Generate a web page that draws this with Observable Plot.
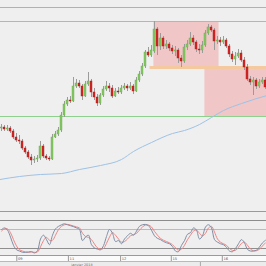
<!DOCTYPE html>
<html><head><meta charset="utf-8">
<script src="https://cdn.jsdelivr.net/npm/d3@7"></script>
<script src="https://cdn.jsdelivr.net/npm/@observablehq/plot@0.6"></script>
<style>
html,body{margin:0;padding:0;background:#efefef;}
#chart{width:266px;height:266px;overflow:hidden;font-family:"DejaVu Sans",sans-serif;}
#chart svg{display:block;}
#blue{height:1px;background:#8f8ff2;}
#gap{height:8px;}
#stochWrap{border-top:1px solid #8c8c8c;border-bottom:1px solid #9a9a9a;}
#axisTop{background:#fbfbfb;border-bottom:1px solid #b9b9b9;}
</style></head><body>
<div id="chart"><div id="main"></div><div id="blue"></div><div id="gap"></div><div id="stochWrap"></div><div id="axisTop"></div><div id="axisBottom"></div></div>
<script>
// ---- candle data (EUR/USD style prices) ----
const open  = [1.2372,1.2373,1.2371,1.2372,1.2369,1.2363,1.2360,1.2359,1.2352,1.2348,1.2343,1.2340,1.2341,1.2342,1.2354,1.2344,1.2342,1.2341,1.2363,1.2366,1.2370,1.2385,1.2396,1.2400,1.2399,1.2414,1.2417,1.2414,1.2404,1.2416,1.2419,1.2408,1.2403,1.2397,1.2405,1.2411,1.2414,1.2412,1.2404,1.2409,1.2408,1.2412,1.2414,1.2412,1.2414,1.2409,1.2420,1.2426,1.2434,1.2448,1.2445,1.2449,1.2471,1.2454,1.2462,1.2454,1.2456,1.2452,1.2449,1.2450,1.2442,1.2439,1.2453,1.2456,1.2462,1.2458,1.2451,1.2450,1.2455,1.2467,1.2473,1.2470,1.2459,1.2460,1.2458,1.2460,1.2454,1.2446,1.2441,1.2444,1.2447,1.2440,1.2433,1.2421,1.2418,1.2420,1.2414,1.2418,1.2420];
const high  = [1.2376,1.2375,1.2375,1.2374,1.2371,1.2367,1.2365,1.2361,1.2354,1.2350,1.2346,1.2344,1.2345,1.2359,1.2356,1.2346,1.2344,1.2366,1.2369,1.2373,1.2388,1.2399,1.2403,1.2404,1.2423,1.2421,1.2420,1.2416,1.2419,1.2428,1.2421,1.2412,1.2406,1.2407,1.2414,1.2419,1.2417,1.2415,1.2412,1.2413,1.2415,1.2417,1.2416,1.2418,1.2416,1.2423,1.2429,1.2437,1.2450,1.2453,1.2455,1.2479,1.2473,1.2467,1.2464,1.2460,1.2458,1.2455,1.2454,1.2452,1.2445,1.2456,1.2460,1.2468,1.2465,1.2460,1.2456,1.2459,1.2470,1.2476,1.2475,1.2472,1.2464,1.2463,1.2464,1.2462,1.2456,1.2449,1.2448,1.2451,1.2450,1.2443,1.2436,1.2424,1.2423,1.2422,1.2421,1.2423,1.2423];
const low   = [1.2369,1.2369,1.2369,1.2367,1.2361,1.2358,1.2356,1.2350,1.2346,1.2341,1.2335,1.2337,1.2338,1.2340,1.2342,1.2340,1.2339,1.2340,1.2362,1.2364,1.2368,1.2383,1.2394,1.2397,1.2398,1.2412,1.2412,1.2400,1.2403,1.2414,1.2403,1.2400,1.2394,1.2395,1.2403,1.2409,1.2408,1.2402,1.2403,1.2406,1.2406,1.2410,1.2409,1.2410,1.2406,1.2408,1.2418,1.2424,1.2432,1.2443,1.2443,1.2447,1.2445,1.2450,1.2451,1.2451,1.2449,1.2446,1.2444,1.2437,1.2433,1.2437,1.2450,1.2454,1.2455,1.2448,1.2446,1.2447,1.2453,1.2465,1.2468,1.2450,1.2456,1.2454,1.2456,1.2452,1.2443,1.2438,1.2435,1.2442,1.2438,1.2430,1.2419,1.2415,1.2405,1.2411,1.2412,1.2416,1.2411];
const close = [1.2373,1.2371,1.2372,1.2369,1.2363,1.2360,1.2359,1.2352,1.2348,1.2343,1.2340,1.2341,1.2342,1.2354,1.2344,1.2342,1.2341,1.2363,1.2366,1.2370,1.2385,1.2396,1.2400,1.2399,1.2414,1.2417,1.2414,1.2404,1.2416,1.2419,1.2408,1.2403,1.2397,1.2405,1.2411,1.2414,1.2412,1.2404,1.2409,1.2408,1.2412,1.2414,1.2412,1.2414,1.2409,1.2420,1.2426,1.2434,1.2448,1.2445,1.2450,1.2471,1.2454,1.2462,1.2454,1.2456,1.2452,1.2449,1.2450,1.2442,1.2439,1.2453,1.2456,1.2462,1.2458,1.2451,1.2450,1.2455,1.2467,1.2473,1.2470,1.2459,1.2460,1.2458,1.2460,1.2454,1.2446,1.2441,1.2444,1.2447,1.2440,1.2433,1.2421,1.2418,1.2420,1.2414,1.2418,1.2420,1.2413];

// ---- moving average (sparse readings: candle index, value) ----
const maIndex = [-0.5, 6, 13, 20, 26, 33, 40, 44, 50, 57, 61, 66, 70, 74, 80, 88.5];
const maValue = [1.2321,1.2324,1.2326,1.2327,1.2331,1.2335,1.2341,1.2349,1.2358,1.2367,1.2370,1.2376,1.2383,1.2390,1.2397,1.2405];

// ---- horizontal levels ----
const upperLevel = 1.2493;
const resistanceLevel = 1.2479;
const supportLevel = 1.2384;
const pivotLevel = 1.2433;
const pivotFrom = 49.5;

// ---- shaded zones ----
const zoneStart = [50.8, 67.8];
const zoneEnd   = [72.5, 88.4];
const zoneTop   = [1.2479, 1.2433];
const zoneBottom= [1.2433, 1.2384];

// ---- stochastic oscillator ----
const stochK = [80,85,78,56,30,16,12,8,8,9,10,6,13,50,62,48,32,62,82,90,95,98,95,92,89,85,80,45,56,62,32,22,18,16,29,58,80,68,42,45,35,50,60,68,62,75,90,95,96,92,78,60,52,48,42,38,35,26,12,10,30,45,65,70,85,78,50,60,88,95,85,48,40,35,32,24,12,10,20,35,48,38,17,12,12,15,25,38,46];
const stochD = [75,82,82,70,48,28,16,12,9,8,9,8,9,25,45,55,46,46,62,80,90,95,96,94,91,88,85,68,58,55,48,34,22,18,20,36,56,70,62,50,40,42,50,60,64,68,78,88,94,94,88,74,62,52,46,42,38,32,22,15,18,30,48,62,75,78,68,60,68,85,90,72,50,40,35,30,20,14,14,24,36,40,30,18,13,13,18,28,38];
const overbought = 80;
const oversold = 20;

// ---- time axis ----
const tickIndex = [5.1, 22.3, 39.7, 56.6, 73.6];
const tickLabels = ["09", "11", "12", "15", "16"];
const monthLabel = "janvier 2018";
const monthIndex = 26.8;
const dividerIndex = 66.3;

// ---- build tables ----
const candles = close.map((c, i) => ({i, open: open[i], high: high[i], low: low[i], close: c}));
const ma = maIndex.map((i, k) => ({i, v: maValue[k]}));
const zones = zoneStart.map((s, k) => ({x1: s, x2: zoneEnd[k], top: zoneTop[k], bottom: zoneBottom[k]}));
const stoch = stochK.map((k, i) => ({i, k, d: stochD[i]}));
const ticks = tickIndex.map((i, k) => ({i, label: tickLabels[k]}));

const xDomain = [-1/3, 88 + 1/3];
const W = 266;

const main = Plot.plot({
  width: W, height: 211, margin: 0,
  x: {domain: xDomain, axis: null},
  y: {domain: [1.2289, 1.2500], axis: null},
  style: {background: "#efefef", overflow: "hidden"},
  marks: [
    Plot.rect(zones, {x1: "x1", x2: "x2", y1: "bottom", y2: "top", fill: "#f08c8c", fillOpacity: 0.42}),
    Plot.ruleY([upperLevel], {stroke: "#c7a2c7"}),
    Plot.ruleY([resistanceLevel], {stroke: "#ee9d9d"}),
    Plot.ruleY([supportLevel], {stroke: "#8fd08f"}),
    Plot.ruleY([pivotLevel], {x1: pivotFrom, x2: xDomain[1], stroke: "#f4c9a0", strokeWidth: 3}),
    Plot.line(ma, {x: "i", y: "v", stroke: "#9fc2e6", strokeWidth: 1, curve: "monotone-x"}),
    Plot.ruleX(candles, {x: "i", y1: "low", y2: "high", stroke: "#9b9b9b"}),
    Plot.rect(candles, {
      x1: d => d.i - 1/3, x2: d => d.i + 1/3,
      y1: "open", y2: "close",
      fill: d => d.close >= d.open ? "#84c862" : "#d92626",
      stroke: d => d.close >= d.open ? "#6aa84c" : "#a01818", strokeWidth: 0.4
    })
  ]
});
document.getElementById("main").append(main);

const st = Plot.plot({
  width: W, height: 34, margin: 0,
  x: {domain: xDomain, axis: null},
  y: {domain: [-2.1, 105.27], axis: null},
  style: {background: "#efefef", overflow: "hidden"},
  marks: [
    Plot.ruleY([overbought], {stroke: "#f2a3a3"}),
    Plot.ruleY([oversold], {stroke: "#8e8e8e"}),
    Plot.line(stoch, {x: "i", y: "d", stroke: "#f08686", strokeWidth: 1, curve: "catmull-rom"}),
    Plot.line(stoch, {x: "i", y: "k", stroke: "#7f8ea6", strokeWidth: 1, curve: "catmull-rom"})
  ]
});
document.getElementById("stochWrap").append(st);

const axTop = Plot.plot({
  width: W, height: 5, margin: 0,
  x: {domain: xDomain, axis: null},
  style: {background: "#fbfbfb", overflow: "visible", fontFamily: "DejaVu Sans"},
  marks: [
    Plot.tickX(ticks, {x: "i", stroke: "#9a9a9a"}),
    Plot.text(ticks, {x: "i", text: "label", textAnchor: "start", dx: 1.2, frameAnchor: "middle", fontSize: 3.6, fill: "#555"})
  ]
});
document.getElementById("axisTop").append(axTop);

const axBottom = Plot.plot({
  width: W, height: 4, margin: 0,
  x: {domain: xDomain, axis: null},
  style: {background: "#ececec", overflow: "visible", fontFamily: "DejaVu Sans"},
  marks: [
    Plot.tickX([dividerIndex], {stroke: "#a8a8a8"}),
    Plot.text([monthLabel], {x: monthIndex, text: d => d, frameAnchor: "middle", fontSize: 3.4, fill: "#666"})
  ]
});
document.getElementById("axisBottom").append(axBottom);
</script>
</body></html>
